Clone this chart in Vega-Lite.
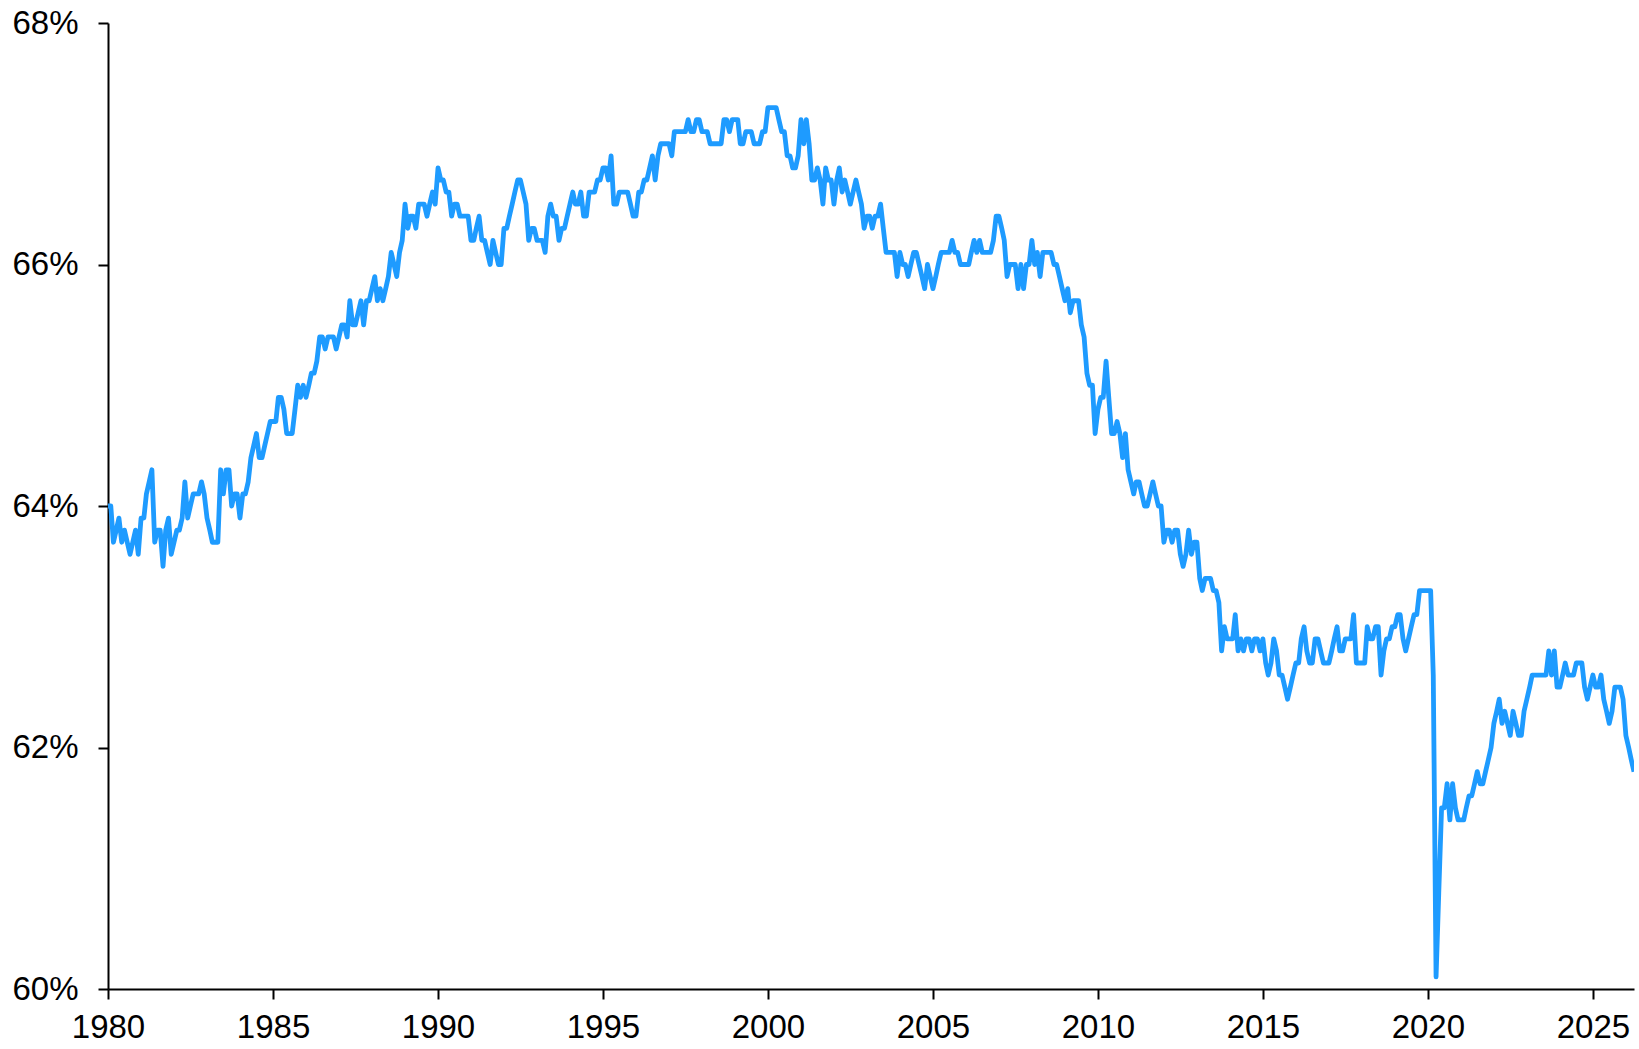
{
  "$schema": "https://vega.github.io/schema/vega-lite/v6.json",
  "autosize": {"type": "none"},
  "width": 1526,
  "height": 966,
  "padding": {"left": 108, "top": 23, "right": 5, "bottom": 60},
  "background": "white",
  "config": {"view": {"stroke": null}},
  "data": {"values": [
{"d":"1980-01","v":64.0},{"d":"1980-02","v":64.0},{"d":"1980-03","v":63.7},{"d":"1980-04","v":63.8},{"d":"1980-05","v":63.9},{"d":"1980-06","v":63.7},{"d":"1980-07","v":63.8},{"d":"1980-08","v":63.7},{"d":"1980-09","v":63.6},{"d":"1980-10","v":63.7},{"d":"1980-11","v":63.8},{"d":"1980-12","v":63.6},
{"d":"1981-01","v":63.9},{"d":"1981-02","v":63.9},{"d":"1981-03","v":64.1},{"d":"1981-04","v":64.2},{"d":"1981-05","v":64.3},{"d":"1981-06","v":63.7},{"d":"1981-07","v":63.8},{"d":"1981-08","v":63.8},{"d":"1981-09","v":63.5},{"d":"1981-10","v":63.8},{"d":"1981-11","v":63.9},{"d":"1981-12","v":63.6},
{"d":"1982-01","v":63.7},{"d":"1982-02","v":63.8},{"d":"1982-03","v":63.8},{"d":"1982-04","v":63.9},{"d":"1982-05","v":64.2},{"d":"1982-06","v":63.9},{"d":"1982-07","v":64.0},{"d":"1982-08","v":64.1},{"d":"1982-09","v":64.1},{"d":"1982-10","v":64.1},{"d":"1982-11","v":64.2},{"d":"1982-12","v":64.1},
{"d":"1983-01","v":63.9},{"d":"1983-02","v":63.8},{"d":"1983-03","v":63.7},{"d":"1983-04","v":63.7},{"d":"1983-05","v":63.7},{"d":"1983-06","v":64.3},{"d":"1983-07","v":64.1},{"d":"1983-08","v":64.3},{"d":"1983-09","v":64.3},{"d":"1983-10","v":64.0},{"d":"1983-11","v":64.1},{"d":"1983-12","v":64.1},
{"d":"1984-01","v":63.9},{"d":"1984-02","v":64.1},{"d":"1984-03","v":64.1},{"d":"1984-04","v":64.2},{"d":"1984-05","v":64.4},{"d":"1984-06","v":64.5},{"d":"1984-07","v":64.6},{"d":"1984-08","v":64.4},{"d":"1984-09","v":64.4},{"d":"1984-10","v":64.5},{"d":"1984-11","v":64.6},{"d":"1984-12","v":64.7},
{"d":"1985-01","v":64.7},{"d":"1985-02","v":64.7},{"d":"1985-03","v":64.9},{"d":"1985-04","v":64.9},{"d":"1985-05","v":64.8},{"d":"1985-06","v":64.6},{"d":"1985-07","v":64.6},{"d":"1985-08","v":64.6},{"d":"1985-09","v":64.8},{"d":"1985-10","v":65.0},{"d":"1985-11","v":64.9},{"d":"1985-12","v":65.0},
{"d":"1986-01","v":64.9},{"d":"1986-02","v":65.0},{"d":"1986-03","v":65.1},{"d":"1986-04","v":65.1},{"d":"1986-05","v":65.2},{"d":"1986-06","v":65.4},{"d":"1986-07","v":65.4},{"d":"1986-08","v":65.3},{"d":"1986-09","v":65.4},{"d":"1986-10","v":65.4},{"d":"1986-11","v":65.4},{"d":"1986-12","v":65.3},
{"d":"1987-01","v":65.4},{"d":"1987-02","v":65.5},{"d":"1987-03","v":65.5},{"d":"1987-04","v":65.4},{"d":"1987-05","v":65.7},{"d":"1987-06","v":65.5},{"d":"1987-07","v":65.5},{"d":"1987-08","v":65.6},{"d":"1987-09","v":65.7},{"d":"1987-10","v":65.5},{"d":"1987-11","v":65.7},{"d":"1987-12","v":65.7},
{"d":"1988-01","v":65.8},{"d":"1988-02","v":65.9},{"d":"1988-03","v":65.7},{"d":"1988-04","v":65.8},{"d":"1988-05","v":65.7},{"d":"1988-06","v":65.8},{"d":"1988-07","v":65.9},{"d":"1988-08","v":66.1},{"d":"1988-09","v":66.0},{"d":"1988-10","v":65.9},{"d":"1988-11","v":66.1},{"d":"1988-12","v":66.2},
{"d":"1989-01","v":66.5},{"d":"1989-02","v":66.3},{"d":"1989-03","v":66.4},{"d":"1989-04","v":66.4},{"d":"1989-05","v":66.3},{"d":"1989-06","v":66.5},{"d":"1989-07","v":66.5},{"d":"1989-08","v":66.5},{"d":"1989-09","v":66.4},{"d":"1989-10","v":66.5},{"d":"1989-11","v":66.6},{"d":"1989-12","v":66.5},
{"d":"1990-01","v":66.8},{"d":"1990-02","v":66.7},{"d":"1990-03","v":66.7},{"d":"1990-04","v":66.6},{"d":"1990-05","v":66.6},{"d":"1990-06","v":66.4},{"d":"1990-07","v":66.5},{"d":"1990-08","v":66.5},{"d":"1990-09","v":66.4},{"d":"1990-10","v":66.4},{"d":"1990-11","v":66.4},{"d":"1990-12","v":66.4},
{"d":"1991-01","v":66.2},{"d":"1991-02","v":66.2},{"d":"1991-03","v":66.3},{"d":"1991-04","v":66.4},{"d":"1991-05","v":66.2},{"d":"1991-06","v":66.2},{"d":"1991-07","v":66.1},{"d":"1991-08","v":66.0},{"d":"1991-09","v":66.2},{"d":"1991-10","v":66.1},{"d":"1991-11","v":66.0},{"d":"1991-12","v":66.0},
{"d":"1992-01","v":66.3},{"d":"1992-02","v":66.3},{"d":"1992-03","v":66.4},{"d":"1992-04","v":66.5},{"d":"1992-05","v":66.6},{"d":"1992-06","v":66.7},{"d":"1992-07","v":66.7},{"d":"1992-08","v":66.6},{"d":"1992-09","v":66.5},{"d":"1992-10","v":66.2},{"d":"1992-11","v":66.3},{"d":"1992-12","v":66.3},
{"d":"1993-01","v":66.2},{"d":"1993-02","v":66.2},{"d":"1993-03","v":66.2},{"d":"1993-04","v":66.1},{"d":"1993-05","v":66.4},{"d":"1993-06","v":66.5},{"d":"1993-07","v":66.4},{"d":"1993-08","v":66.4},{"d":"1993-09","v":66.2},{"d":"1993-10","v":66.3},{"d":"1993-11","v":66.3},{"d":"1993-12","v":66.4},
{"d":"1994-01","v":66.5},{"d":"1994-02","v":66.6},{"d":"1994-03","v":66.5},{"d":"1994-04","v":66.5},{"d":"1994-05","v":66.6},{"d":"1994-06","v":66.4},{"d":"1994-07","v":66.4},{"d":"1994-08","v":66.6},{"d":"1994-09","v":66.6},{"d":"1994-10","v":66.6},{"d":"1994-11","v":66.7},{"d":"1994-12","v":66.7},
{"d":"1995-01","v":66.8},{"d":"1995-02","v":66.8},{"d":"1995-03","v":66.7},{"d":"1995-04","v":66.9},{"d":"1995-05","v":66.5},{"d":"1995-06","v":66.5},{"d":"1995-07","v":66.6},{"d":"1995-08","v":66.6},{"d":"1995-09","v":66.6},{"d":"1995-10","v":66.6},{"d":"1995-11","v":66.5},{"d":"1995-12","v":66.4},
{"d":"1996-01","v":66.4},{"d":"1996-02","v":66.6},{"d":"1996-03","v":66.6},{"d":"1996-04","v":66.7},{"d":"1996-05","v":66.7},{"d":"1996-06","v":66.8},{"d":"1996-07","v":66.9},{"d":"1996-08","v":66.7},{"d":"1996-09","v":66.9},{"d":"1996-10","v":67.0},{"d":"1996-11","v":67.0},{"d":"1996-12","v":67.0},
{"d":"1997-01","v":67.0},{"d":"1997-02","v":66.9},{"d":"1997-03","v":67.1},{"d":"1997-04","v":67.1},{"d":"1997-05","v":67.1},{"d":"1997-06","v":67.1},{"d":"1997-07","v":67.1},{"d":"1997-08","v":67.2},{"d":"1997-09","v":67.1},{"d":"1997-10","v":67.1},{"d":"1997-11","v":67.2},{"d":"1997-12","v":67.2},
{"d":"1998-01","v":67.1},{"d":"1998-02","v":67.1},{"d":"1998-03","v":67.1},{"d":"1998-04","v":67.0},{"d":"1998-05","v":67.0},{"d":"1998-06","v":67.0},{"d":"1998-07","v":67.0},{"d":"1998-08","v":67.0},{"d":"1998-09","v":67.2},{"d":"1998-10","v":67.2},{"d":"1998-11","v":67.1},{"d":"1998-12","v":67.2},
{"d":"1999-01","v":67.2},{"d":"1999-02","v":67.2},{"d":"1999-03","v":67.0},{"d":"1999-04","v":67.0},{"d":"1999-05","v":67.1},{"d":"1999-06","v":67.1},{"d":"1999-07","v":67.1},{"d":"1999-08","v":67.0},{"d":"1999-09","v":67.0},{"d":"1999-10","v":67.0},{"d":"1999-11","v":67.1},{"d":"1999-12","v":67.1},
{"d":"2000-01","v":67.3},{"d":"2000-02","v":67.3},{"d":"2000-03","v":67.3},{"d":"2000-04","v":67.3},{"d":"2000-05","v":67.2},{"d":"2000-06","v":67.1},{"d":"2000-07","v":67.1},{"d":"2000-08","v":66.9},{"d":"2000-09","v":66.9},{"d":"2000-10","v":66.8},{"d":"2000-11","v":66.8},{"d":"2000-12","v":66.9},
{"d":"2001-01","v":67.2},{"d":"2001-02","v":67.0},{"d":"2001-03","v":67.2},{"d":"2001-04","v":67.0},{"d":"2001-05","v":66.7},{"d":"2001-06","v":66.7},{"d":"2001-07","v":66.8},{"d":"2001-08","v":66.7},{"d":"2001-09","v":66.5},{"d":"2001-10","v":66.8},{"d":"2001-11","v":66.7},{"d":"2001-12","v":66.7},
{"d":"2002-01","v":66.5},{"d":"2002-02","v":66.7},{"d":"2002-03","v":66.8},{"d":"2002-04","v":66.6},{"d":"2002-05","v":66.7},{"d":"2002-06","v":66.6},{"d":"2002-07","v":66.5},{"d":"2002-08","v":66.6},{"d":"2002-09","v":66.7},{"d":"2002-10","v":66.6},{"d":"2002-11","v":66.5},{"d":"2002-12","v":66.3},
{"d":"2003-01","v":66.4},{"d":"2003-02","v":66.4},{"d":"2003-03","v":66.3},{"d":"2003-04","v":66.4},{"d":"2003-05","v":66.4},{"d":"2003-06","v":66.5},{"d":"2003-07","v":66.3},{"d":"2003-08","v":66.1},{"d":"2003-09","v":66.1},{"d":"2003-10","v":66.1},{"d":"2003-11","v":66.1},{"d":"2003-12","v":65.9},
{"d":"2004-01","v":66.1},{"d":"2004-02","v":66.0},{"d":"2004-03","v":66.0},{"d":"2004-04","v":65.9},{"d":"2004-05","v":66.0},{"d":"2004-06","v":66.1},{"d":"2004-07","v":66.1},{"d":"2004-08","v":66.0},{"d":"2004-09","v":65.9},{"d":"2004-10","v":65.8},{"d":"2004-11","v":66.0},{"d":"2004-12","v":65.9},
{"d":"2005-01","v":65.8},{"d":"2005-02","v":65.9},{"d":"2005-03","v":66.0},{"d":"2005-04","v":66.1},{"d":"2005-05","v":66.1},{"d":"2005-06","v":66.1},{"d":"2005-07","v":66.1},{"d":"2005-08","v":66.2},{"d":"2005-09","v":66.1},{"d":"2005-10","v":66.1},{"d":"2005-11","v":66.0},{"d":"2005-12","v":66.0},
{"d":"2006-01","v":66.0},{"d":"2006-02","v":66.0},{"d":"2006-03","v":66.1},{"d":"2006-04","v":66.2},{"d":"2006-05","v":66.1},{"d":"2006-06","v":66.2},{"d":"2006-07","v":66.1},{"d":"2006-08","v":66.1},{"d":"2006-09","v":66.1},{"d":"2006-10","v":66.1},{"d":"2006-11","v":66.2},{"d":"2006-12","v":66.4},
{"d":"2007-01","v":66.4},{"d":"2007-02","v":66.3},{"d":"2007-03","v":66.2},{"d":"2007-04","v":65.9},{"d":"2007-05","v":66.0},{"d":"2007-06","v":66.0},{"d":"2007-07","v":66.0},{"d":"2007-08","v":65.8},{"d":"2007-09","v":66.0},{"d":"2007-10","v":65.8},{"d":"2007-11","v":66.0},{"d":"2007-12","v":66.0},
{"d":"2008-01","v":66.2},{"d":"2008-02","v":66.0},{"d":"2008-03","v":66.1},{"d":"2008-04","v":65.9},{"d":"2008-05","v":66.1},{"d":"2008-06","v":66.1},{"d":"2008-07","v":66.1},{"d":"2008-08","v":66.1},{"d":"2008-09","v":66.0},{"d":"2008-10","v":66.0},{"d":"2008-11","v":65.9},{"d":"2008-12","v":65.8},
{"d":"2009-01","v":65.7},{"d":"2009-02","v":65.8},{"d":"2009-03","v":65.6},{"d":"2009-04","v":65.7},{"d":"2009-05","v":65.7},{"d":"2009-06","v":65.7},{"d":"2009-07","v":65.5},{"d":"2009-08","v":65.4},{"d":"2009-09","v":65.1},{"d":"2009-10","v":65.0},{"d":"2009-11","v":65.0},{"d":"2009-12","v":64.6},
{"d":"2010-01","v":64.8},{"d":"2010-02","v":64.9},{"d":"2010-03","v":64.9},{"d":"2010-04","v":65.2},{"d":"2010-05","v":64.9},{"d":"2010-06","v":64.6},{"d":"2010-07","v":64.6},{"d":"2010-08","v":64.7},{"d":"2010-09","v":64.6},{"d":"2010-10","v":64.4},{"d":"2010-11","v":64.6},{"d":"2010-12","v":64.3},
{"d":"2011-01","v":64.2},{"d":"2011-02","v":64.1},{"d":"2011-03","v":64.2},{"d":"2011-04","v":64.2},{"d":"2011-05","v":64.1},{"d":"2011-06","v":64.0},{"d":"2011-07","v":64.0},{"d":"2011-08","v":64.1},{"d":"2011-09","v":64.2},{"d":"2011-10","v":64.1},{"d":"2011-11","v":64.0},{"d":"2011-12","v":64.0},
{"d":"2012-01","v":63.7},{"d":"2012-02","v":63.8},{"d":"2012-03","v":63.8},{"d":"2012-04","v":63.7},{"d":"2012-05","v":63.8},{"d":"2012-06","v":63.8},{"d":"2012-07","v":63.6},{"d":"2012-08","v":63.5},{"d":"2012-09","v":63.6},{"d":"2012-10","v":63.8},{"d":"2012-11","v":63.6},{"d":"2012-12","v":63.7},
{"d":"2013-01","v":63.7},{"d":"2013-02","v":63.4},{"d":"2013-03","v":63.3},{"d":"2013-04","v":63.4},{"d":"2013-05","v":63.4},{"d":"2013-06","v":63.4},{"d":"2013-07","v":63.3},{"d":"2013-08","v":63.3},{"d":"2013-09","v":63.2},{"d":"2013-10","v":62.8},{"d":"2013-11","v":63.0},{"d":"2013-12","v":62.9},
{"d":"2014-01","v":62.9},{"d":"2014-02","v":62.9},{"d":"2014-03","v":63.1},{"d":"2014-04","v":62.8},{"d":"2014-05","v":62.9},{"d":"2014-06","v":62.8},{"d":"2014-07","v":62.9},{"d":"2014-08","v":62.9},{"d":"2014-09","v":62.8},{"d":"2014-10","v":62.9},{"d":"2014-11","v":62.9},{"d":"2014-12","v":62.8},
{"d":"2015-01","v":62.9},{"d":"2015-02","v":62.7},{"d":"2015-03","v":62.6},{"d":"2015-04","v":62.7},{"d":"2015-05","v":62.9},{"d":"2015-06","v":62.8},{"d":"2015-07","v":62.6},{"d":"2015-08","v":62.6},{"d":"2015-09","v":62.5},{"d":"2015-10","v":62.4},{"d":"2015-11","v":62.5},{"d":"2015-12","v":62.6},
{"d":"2016-01","v":62.7},{"d":"2016-02","v":62.7},{"d":"2016-03","v":62.9},{"d":"2016-04","v":63.0},{"d":"2016-05","v":62.8},{"d":"2016-06","v":62.7},{"d":"2016-07","v":62.7},{"d":"2016-08","v":62.9},{"d":"2016-09","v":62.9},{"d":"2016-10","v":62.8},{"d":"2016-11","v":62.7},{"d":"2016-12","v":62.7},
{"d":"2017-01","v":62.7},{"d":"2017-02","v":62.8},{"d":"2017-03","v":62.9},{"d":"2017-04","v":63.0},{"d":"2017-05","v":62.8},{"d":"2017-06","v":62.8},{"d":"2017-07","v":62.9},{"d":"2017-08","v":62.9},{"d":"2017-09","v":62.9},{"d":"2017-10","v":63.1},{"d":"2017-11","v":62.7},{"d":"2017-12","v":62.7},
{"d":"2018-01","v":62.7},{"d":"2018-02","v":62.7},{"d":"2018-03","v":63.0},{"d":"2018-04","v":62.9},{"d":"2018-05","v":62.9},{"d":"2018-06","v":63.0},{"d":"2018-07","v":63.0},{"d":"2018-08","v":62.6},{"d":"2018-09","v":62.8},{"d":"2018-10","v":62.9},{"d":"2018-11","v":62.9},{"d":"2018-12","v":63.0},
{"d":"2019-01","v":63.0},{"d":"2019-02","v":63.1},{"d":"2019-03","v":63.1},{"d":"2019-04","v":62.9},{"d":"2019-05","v":62.8},{"d":"2019-06","v":62.9},{"d":"2019-07","v":63.0},{"d":"2019-08","v":63.1},{"d":"2019-09","v":63.1},{"d":"2019-10","v":63.3},{"d":"2019-11","v":63.3},{"d":"2019-12","v":63.3},
{"d":"2020-01","v":63.3},{"d":"2020-02","v":63.3},{"d":"2020-03","v":62.6},{"d":"2020-04","v":60.1},{"d":"2020-05","v":60.8},{"d":"2020-06","v":61.5},{"d":"2020-07","v":61.5},{"d":"2020-08","v":61.7},{"d":"2020-09","v":61.4},{"d":"2020-10","v":61.7},{"d":"2020-11","v":61.5},{"d":"2020-12","v":61.4},
{"d":"2021-01","v":61.4},{"d":"2021-02","v":61.4},{"d":"2021-03","v":61.5},{"d":"2021-04","v":61.6},{"d":"2021-05","v":61.6},{"d":"2021-06","v":61.7},{"d":"2021-07","v":61.8},{"d":"2021-08","v":61.7},{"d":"2021-09","v":61.7},{"d":"2021-10","v":61.8},{"d":"2021-11","v":61.9},{"d":"2021-12","v":62.0},
{"d":"2022-01","v":62.2},{"d":"2022-02","v":62.3},{"d":"2022-03","v":62.4},{"d":"2022-04","v":62.2},{"d":"2022-05","v":62.3},{"d":"2022-06","v":62.2},{"d":"2022-07","v":62.1},{"d":"2022-08","v":62.3},{"d":"2022-09","v":62.2},{"d":"2022-10","v":62.1},{"d":"2022-11","v":62.1},{"d":"2022-12","v":62.3},
{"d":"2023-01","v":62.4},{"d":"2023-02","v":62.5},{"d":"2023-03","v":62.6},{"d":"2023-04","v":62.6},{"d":"2023-05","v":62.6},{"d":"2023-06","v":62.6},{"d":"2023-07","v":62.6},{"d":"2023-08","v":62.6},{"d":"2023-09","v":62.8},{"d":"2023-10","v":62.6},{"d":"2023-11","v":62.8},{"d":"2023-12","v":62.5},
{"d":"2024-01","v":62.5},{"d":"2024-02","v":62.6},{"d":"2024-03","v":62.7},{"d":"2024-04","v":62.6},{"d":"2024-05","v":62.6},{"d":"2024-06","v":62.6},{"d":"2024-07","v":62.7},{"d":"2024-08","v":62.7},{"d":"2024-09","v":62.7},{"d":"2024-10","v":62.5},{"d":"2024-11","v":62.4},{"d":"2024-12","v":62.5},
{"d":"2025-01","v":62.6},{"d":"2025-02","v":62.5},{"d":"2025-03","v":62.5},{"d":"2025-04","v":62.6},{"d":"2025-05","v":62.4},{"d":"2025-06","v":62.3},{"d":"2025-07","v":62.2},{"d":"2025-08","v":62.3},{"d":"2025-09","v":62.5},{"d":"2025-10","v":62.5},{"d":"2025-11","v":62.5},{"d":"2025-12","v":62.4},
{"d":"2026-01","v":62.1},{"d":"2026-02","v":62.0},{"d":"2026-03","v":61.9},{"d":"2026-04","v":61.8}
  ]},
  "mark": {"type": "line", "color": "#1E9BFF", "strokeWidth": 4.8, "strokeJoin": "round", "clip": true},
  "encoding": {
    "x": {
      "field": "d", "type": "temporal",
      "scale": {"type": "utc", "domain": [{"year": 1980, "month": 1, "date": 1, "utc": true}, {"year": 2026, "month": 4, "date": 1, "utc": true}], "nice": false},
      "axis": {
        "title": null,
        "values": [{"year": 1980, "utc": true}, {"year": 1985, "utc": true}, {"year": 1990, "utc": true}, {"year": 1995, "utc": true}, {"year": 2000, "utc": true}, {"year": 2005, "utc": true}, {"year": 2010, "utc": true}, {"year": 2015, "utc": true}, {"year": 2020, "utc": true}, {"year": 2025, "utc": true}],
        "format": "%Y",
        "grid": false,
        "domainColor": "black", "domainWidth": 2,
        "tickColor": "black", "tickWidth": 2, "tickSize": 10,
        "labelFont": "Liberation Sans", "labelFontSize": 33, "labelColor": "black",
        "labelPadding": 12, "labelFlush": false, "labelOverlap": false
      }
    },
    "y": {
      "field": "v", "type": "quantitative",
      "scale": {"domain": [60, 68], "nice": false, "zero": false},
      "axis": {
        "title": null,
        "values": [60, 62, 64, 66, 68],
        "labelExpr": "datum.value + '%'",
        "grid": false,
        "domainColor": "black", "domainWidth": 2,
        "tickColor": "black", "tickWidth": 2, "tickSize": 10,
        "labelFont": "Liberation Sans", "labelFontSize": 33, "labelColor": "black",
        "labelPadding": 20, "labelFlush": false, "labelOverlap": false
      }
    }
  }
}
